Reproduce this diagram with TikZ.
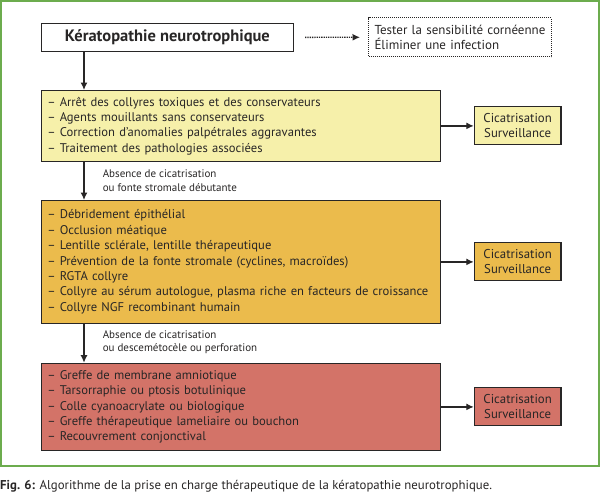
\documentclass[tikz,border=0pt]{standalone}
\usepackage{fontspec}
\setmainfont{PT Sans}
\usepackage{xcolor}
\usetikzlibrary{positioning}
\usetikzlibrary{arrows.meta}
\definecolor{cadre}{RGB}{108,172,78}
\definecolor{trait}{RGB}{40,38,38}
\definecolor{jaune}{RGB}{246,240,170}
\definecolor{ocre}{RGB}{235,187,76}
\definecolor{brique}{RGB}{211,115,104}
\tikzset{
	liste/.style={draw=trait, line width=1.1pt, anchor=north west, align=left, text width=387.3pt, inner xsep=6pt, inner ysep=0pt, font=\fontsize{12.6}{15.4}\selectfont},
	issue/.style={draw=trait, line width=1.1pt, minimum width=86.6pt, minimum height=38pt, align=center, inner sep=0pt, font=\fontsize{12.8}{15.2}\selectfont},
	etiquette/.style={anchor=west, align=left, inner sep=0pt, font=\fontsize{11}{13.3}\selectfont}
}
\begin{document}
\begin{tikzpicture}[x=1pt, y=-1pt, >={Latex[length=7.5pt,width=7pt]}, color=trait]
	\useasboundingbox (0,0) rectangle (600,498);
	\draw[cadre, line width=2pt] (1,1) rectangle (598.5,465.5);
	\node[draw=trait, line width=1.1pt, anchor=north west, minimum width=252.3pt, minimum height=27.4pt, inner sep=0pt, font=\fontsize{16.5}{18}\selectfont\bfseries] (titre) at (40.7,23.3) {Kératopathie neurotrophique};
	\node[draw=trait, densely dotted, line width=1pt, anchor=north west, minimum width=183pt, minimum height=38.7pt, align=left, inner xsep=6pt, inner ysep=0pt, text width=171pt, font=\fontsize{13}{15}\selectfont] (bilan) at (368,17.3) {Tester la sensibilité cornéenne\\Éliminer une infection};
	\draw[->, densely dotted, line width=1.3pt, shorten <=11pt, shorten >=8pt] (titre) -- (bilan);
	\node[liste, fill=jaune, minimum height=70.7pt] (etape1) at (40.7,90) {– Arrêt des collyres toxiques et des conservateurs\\– Agents mouillants sans conservateurs\\– Correction d’anomalies palpétrales aggravantes\\– Traitement des pathologies associées};
	\node[liste, fill=ocre, minimum height=122.7pt] (etape2) at (40.7,200) {– Débridement épithélial\\– Occlusion méatique\\– Lentille sclérale, lentille thérapeutique\\– Prévention de la fonte stromale (cyclines, macroïdes)\\– RGTA collyre\\– Collyre au sérum autologue, plasma riche en facteurs de croissance\\– Collyre NGF recombinant humain};
	\node[liste, fill=brique, minimum height=87.3pt] (etape3) at (40.7,362.7) {– Greffe de membrane amniotique\\– Tarsorraphie ou ptosis botulinique\\– Colle cyanoacrylate ou biologique\\– Greffe thérapeutique lameliaire ou bouchon\\– Recouvrement conjonctival};
	\node[issue, fill=jaune, right=32.7pt of etape1] (issue1) {Cicatrisation\\Surveillance};
	\node[issue, fill=ocre, right=32.7pt of etape2] (issue2) {Cicatrisation\\Surveillance};
	\node[issue, fill=brique, right=32.7pt of etape3] (issue3) {Cicatrisation\\Surveillance};
	\coordinate (axe) at (84,0);
	\draw[->, line width=1.3pt] (titre.south -| axe) -- (etape1.north -| axe);
	\draw[->, line width=1.3pt] (etape1.south -| axe) -- (etape2.north -| axe);
	\draw[->, line width=1.3pt] (etape2.south -| axe) -- (etape3.north -| axe);
	\draw[->, line width=1.3pt] (etape1) -- (issue1);
	\draw[->, line width=1.3pt] (etape2) -- (issue2);
	\draw[->, line width=1.3pt] (etape3) -- (issue3);
	\node[etiquette] (motif1) at (102.6,180.7) {Absence de cicatrisation\\ou fonte stromale débutante};
	\node[etiquette] (motif2) at (102.6,342.3) {Absence de cicatrisation\\ou descemétocèle ou perforation};
	\node[anchor=west, inner sep=0pt, font=\fontsize{12.8}{14}\selectfont] (legende) at (0,486.7) {\textbf{Fig. 6:} Algorithme de la prise en charge thérapeutique de la kératopathie neurotrophique.};
\end{tikzpicture}
\end{document}
